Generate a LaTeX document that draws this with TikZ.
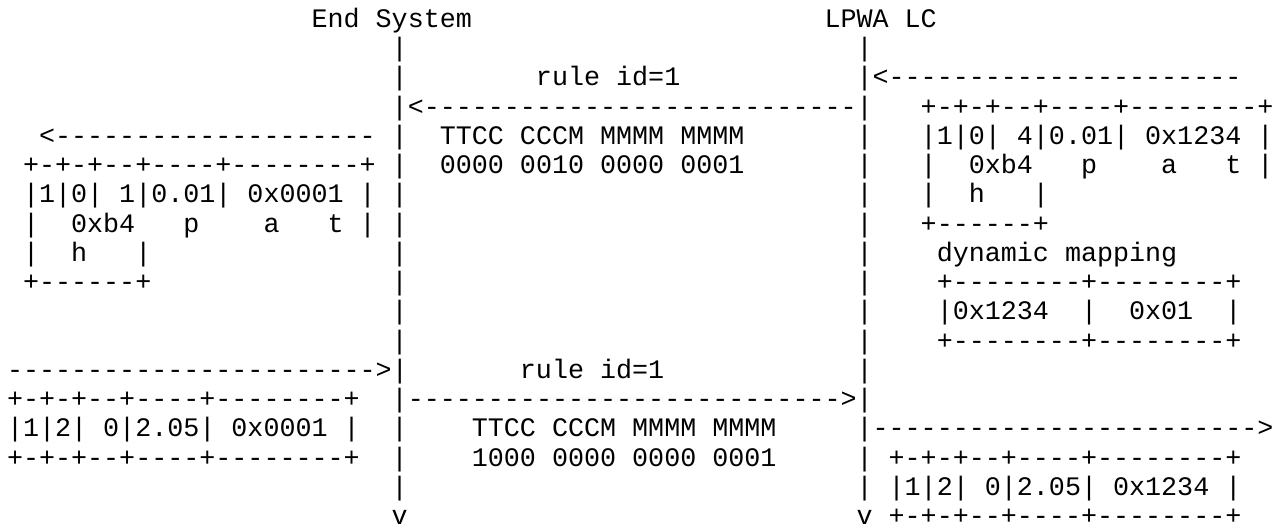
\documentclass[tikz,border=0pt]{standalone}
\usepackage{fontspec}
\setmonofont{Liberation Mono}
\usepackage{tikz}
\usetikzlibrary{positioning}
\tikzset{
    ascii/.style={
        anchor=base west, inner sep=0pt, outer sep=0pt,
        font=\ttfamily\fontsize{26.72}{29.3}\selectfont, text=black
    }
}
% text at (column, row) of the fixed-width grid
\newcommand{\asc}[3]{
    \node[ascii] (r#2c#1) at ({7+16.03*#1},{-27.4-29.25*#2}) {#3};
}

\begin{document}
\begin{tikzpicture}[x=1pt, y=1pt]
    \useasboundingbox (0,0) rectangle (1282,-529);

    % --- HEADERS ---
    \asc{19}{0}{End System}
    \asc{51}{0}{LPWA LC}

    % --- LIFELINES ---
    \foreach \r in {1,2,4,5,6,7,8,9,10,11,14,15,16} { \asc{24}{\r}{|} }
    \foreach \r in {1,4,5,6,7,8,9,10,11,12,15,16} { \asc{53}{\r}{|} }
    \asc{24}{17}{v}
    \asc{53}{17}{v}

    % --- FIRST EXCHANGE (LPWA LC -> End System) ---
    \asc{53}{2}{|<----------------------}
    \asc{33}{2}{rule id=1}
    \asc{24}{3}{|<---------------------------|}
    \asc{27}{4}{TTCC CCCM MMMM MMMM}
    \asc{27}{5}{0000 0010 0000 0001}
    \asc{2}{4}{<--------------------}

    % right: incoming message
    \asc{57}{3}{+-+-+--+----+--------+}
    \asc{57}{4}{|1|0| 4|0.01| 0x1234 |}
    \asc{57}{5}{|~~0xb4~~~p~~~~a~~~t~|}
    \asc{57}{6}{|~~h~~~|}
    \asc{57}{7}{+------+}

    % right: mapping table
    \asc{58}{8}{dynamic mapping}
    \asc{58}{9}{+--------+--------+}
    \asc{58}{10}{|0x1234~~|~~0x01~~|}
    \asc{58}{11}{+--------+--------+}

    % left: delivered message
    \asc{1}{5}{+-+-+--+----+--------+}
    \asc{1}{6}{|1|0| 1|0.01| 0x0001 |}
    \asc{1}{7}{|~~0xb4~~~p~~~~a~~~t~|}
    \asc{1}{8}{|~~h~~~|}
    \asc{1}{9}{+------+}

    % --- SECOND EXCHANGE (End System -> LPWA LC) ---
    \asc{0}{12}{----------------------->|}
    \asc{0}{13}{+-+-+--+----+--------+}
    \asc{0}{14}{|1|2| 0|2.05| 0x0001 |}
    \asc{0}{15}{+-+-+--+----+--------+}

    \asc{32}{12}{rule id=1}
    \asc{24}{13}{|--------------------------->|}
    \asc{29}{14}{TTCC CCCM MMMM MMMM}
    \asc{29}{15}{1000 0000 0000 0001}

    \asc{53}{14}{|------------------------>}
    \asc{55}{15}{+-+-+--+----+--------+}
    \asc{55}{16}{|1|2| 0|2.05| 0x1234 |}
    \asc{55}{17}{+-+-+--+----+--------+}
\end{tikzpicture}
\end{document}
